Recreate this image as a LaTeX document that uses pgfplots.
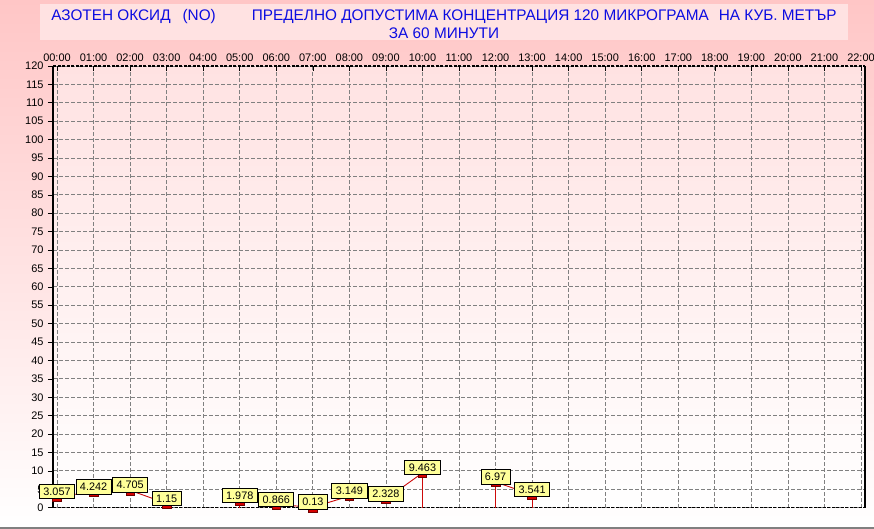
\documentclass[border=0pt]{standalone}
\usepackage{fontspec}
\setmainfont{Liberation Sans}
\usepackage{pgfplots}
\pgfplotsset{compat=1.18}

\definecolor{bgpink}{RGB}{255,198,198}
\definecolor{titlebox}{RGB}{255,226,226}
\definecolor{titleblue}{RGB}{12,12,225}
\definecolor{plottop}{RGB}{255,226,226}
\definecolor{lblfill}{RGB}{255,255,153}
\definecolor{mkfill}{RGB}{215,0,0}
\definecolor{mkdraw}{RGB}{110,0,0}
\definecolor{lncol}{RGB}{205,10,10}

\pgfplotsset{
  datapt/.style={
    lncol, line width=0.9bp,
    mark=square*,
    mark size=4.3bp,
    mark options={solid, fill=mkfill, draw=mkdraw, line width=0.6bp, yshift=-2.3bp, yscale=0.55},
    point meta=explicit symbolic,
    nodes near coords,
    every node near coord/.style={
      anchor=south, fill=lblfill, draw=black, line width=0.8bp, text=black,
      font=\fontsize{10.9}{12}\selectfont, inner xsep=4bp, inner ysep=3.3bp,
      text height=7.8bp, text depth=0bp
    },
  },
  dropln/.style={lncol, line width=0.9bp, mark=none},
}

\begin{document}
\begin{tikzpicture}[x=1bp, y=1bp]
\useasboundingbox (0,0) rectangle (874,529);
\shade[top color=bgpink, bottom color=white] (0,0) rectangle (874,529);
\draw[gray, line width=1.5bp] (0,1) -- (874,1);
\fill[titlebox] (40,489) rectangle (848,525);
\node[text=titleblue, font=\fontsize{15.4}{17}\selectfont] at (444,512)
  {АЗОТЕН ОКСИД\hspace{12bp}(NO)\hspace{36bp}ПРЕДЕЛНО ДОПУСТИМА КОНЦЕНТРАЦИЯ 120 МИКРОГРАМА\hspace{10bp}НА КУБ. МЕТЪР};
\node[text=titleblue, font=\fontsize{15.4}{17}\selectfont] at (444,496) {ЗА 60 МИНУТИ};

\begin{axis}[
  at={(53bp,21.3bp)}, anchor=south west,
  scale only axis,
  width=812bp, height=441.7bp,
  xmin=-0.11, xmax=22.11,
  ymin=0, ymax=120,
  xtick={0,1,...,22},
  xticklabels={00:00,01:00,02:00,03:00,04:00,05:00,06:00,07:00,08:00,09:00,10:00,11:00,12:00,13:00,14:00,15:00,16:00,17:00,18:00,19:00,20:00,21:00,22:00},
  ytick={0,5,...,120},
  /pgf/number format/assume math mode=true,
  xtick pos=right, xticklabel pos=right,
  ytick pos=left,
  xtick align=inside, ytick align=outside,
  major tick length=5bp,
  tick style={black, line width=0.6bp},
  ticklabel style={font=\fontsize{11}{13}\selectfont, text=black},
  yticklabel style={xshift=-1bp},
  xticklabel style={yshift=1bp},
  grid=major,
  major grid style={gray, line width=0.8bp, dash pattern=on 3.5bp off 2.5bp},
  axis line style={draw=none},
  axis background/.style={shade, top color=plottop, bottom color=white},
  clip=false,
]
  % frame first, so that the value boxes lie over it
  \draw[black, line width=1.2bp, dash pattern=on 3bp off 1.5bp] (rel axis cs:0,1) -- (rel axis cs:1,1);
  \draw[black, line width=1.2bp, dash pattern=on 3bp off 1.5bp] (rel axis cs:0,0) -- (rel axis cs:1,0);
  \draw[black, line width=2bp] (rel axis cs:0,0) -- (rel axis cs:0,1);
  \draw[black, line width=1.2bp] (rel axis cs:1,0) -- (rel axis cs:1,1);

  \addplot[dropln] coordinates {(3,1.15) (3,0)};
  \addplot[dropln] coordinates {(5,0) (5,1.978)};
  \addplot[dropln] coordinates {(10,9.463) (10,0)};
  \addplot[dropln] coordinates {(12,0) (12,6.97)};
  \addplot[dropln] coordinates {(13,3.541) (13,0)};

  \addplot[datapt] coordinates {
    (0,3.057) [3.057] (1,4.242) [4.242] (2,4.705) [4.705] (3,1.15) [1.15]
  };
  \addplot[datapt] coordinates {
    (5,1.978) [1.978] (6,0.866) [0.866] (7,0.13) [0.13] (8,3.149) [3.149]
    (9,2.328) [2.328] (10,9.463) [9.463]
  };
  \addplot[datapt] coordinates {
    (12,6.97) [6.97] (13,3.541) [3.541]
  };
\end{axis}
\end{tikzpicture}
\end{document}
